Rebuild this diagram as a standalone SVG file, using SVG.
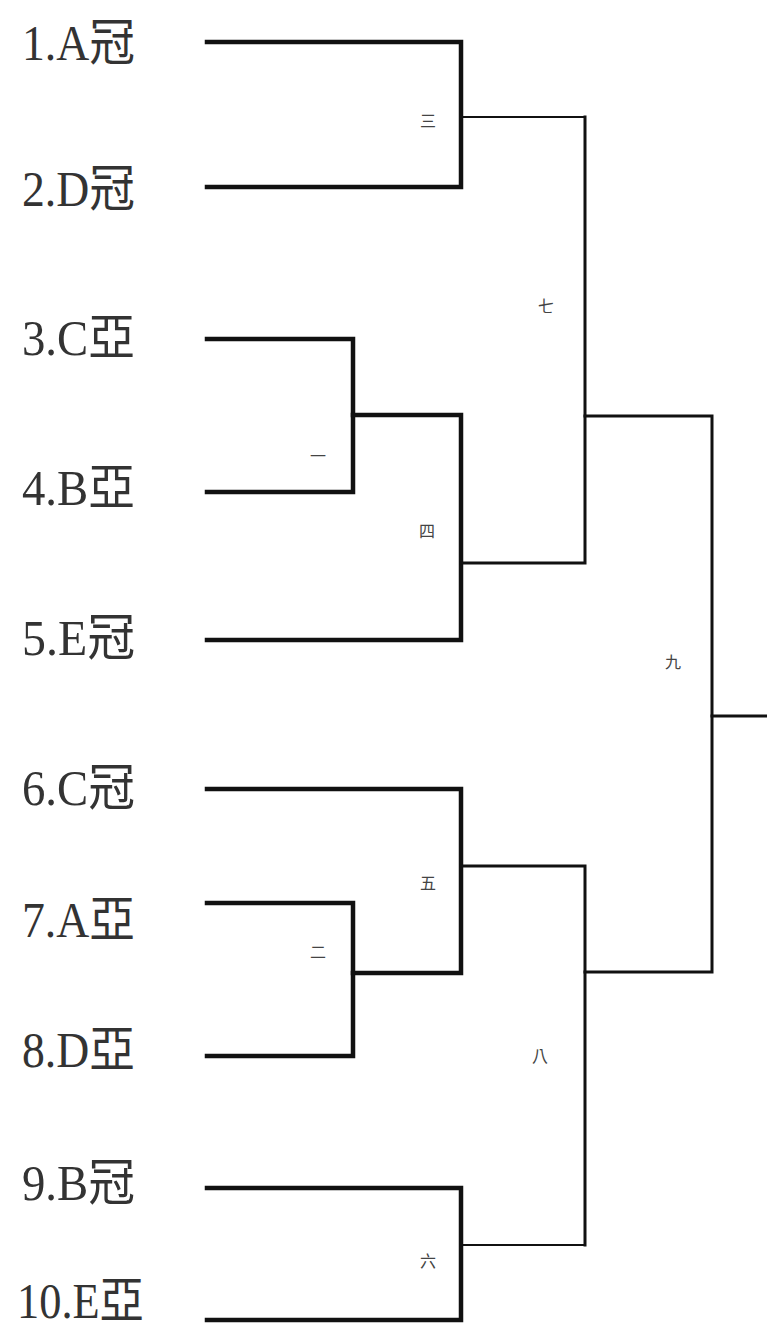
<svg xmlns="http://www.w3.org/2000/svg" width="767" height="1328" viewBox="0 0 767 1328">
<style>
.e{font-family:"Liberation Serif","Noto Sans CJK TC",serif;font-size:50px;fill:#333;}
.m{font-family:"Noto Sans CJK TC","Noto Sans CJK SC",sans-serif;font-size:16px;fill:#444;text-anchor:middle;}
.k{fill:none;stroke:#111;stroke-width:4.5;stroke-linejoin:miter;stroke-linecap:square;}
.t{fill:none;stroke:#111;stroke-width:3;stroke-linecap:square;}
.h{fill:none;stroke:#111;stroke-width:2;stroke-linecap:square;}
</style>
<rect width="767" height="1328" fill="#fff"/>
<g id="connectors">
<path class="k" d="M207 42H461V187H207"/>
<path class="h" d="M461 117H585"/>
<path class="k" d="M207 339H353V492H207"/>
<path class="k" d="M353 415H461V640H207"/>
<path class="t" d="M461 563H585V117"/>
<path class="t" d="M585 416H712V972H585"/>
<path class="t" d="M712 716H767"/>
<path class="k" d="M207 789H461V973H353"/>
<path class="k" d="M207 903H353V1056H207"/>
<path class="t" d="M461 866H585V1245"/>
<path class="k" d="M207 1188H461V1320H207"/>
<path class="h" d="M461 1245H585"/>
</g>
<g id="entry-1"><text class="e" x="22" y="60" textLength="113" lengthAdjust="spacingAndGlyphs">1.A冠</text></g>
<g id="entry-2"><text class="e" x="22" y="206" textLength="113" lengthAdjust="spacingAndGlyphs">2.D冠</text></g>
<g id="entry-3"><text class="e" x="22" y="355" textLength="113" lengthAdjust="spacingAndGlyphs">3.C亞</text></g>
<g id="entry-4"><text class="e" x="22" y="505" textLength="113" lengthAdjust="spacingAndGlyphs">4.B亞</text></g>
<g id="entry-5"><text class="e" x="22" y="655" textLength="113" lengthAdjust="spacingAndGlyphs">5.E冠</text></g>
<g id="entry-6"><text class="e" x="22" y="805" textLength="113" lengthAdjust="spacingAndGlyphs">6.C冠</text></g>
<g id="entry-7"><text class="e" x="22" y="937" textLength="113" lengthAdjust="spacingAndGlyphs">7.A亞</text></g>
<g id="entry-8"><text class="e" x="22" y="1067" textLength="113" lengthAdjust="spacingAndGlyphs">8.D亞</text></g>
<g id="entry-9"><text class="e" x="22" y="1200" textLength="113" lengthAdjust="spacingAndGlyphs">9.B冠</text></g>
<g id="entry-10"><text class="e" x="17" y="1318" font-size="46" textLength="127" lengthAdjust="spacingAndGlyphs">10.E亞</text></g>
<g id="match-1"><text class="m" x="318" y="462">一</text></g>
<g id="match-2"><text class="m" x="318" y="958">二</text></g>
<g id="match-3"><text class="m" x="428" y="127">三</text></g>
<g id="match-4"><text class="m" x="427" y="537">四</text></g>
<g id="match-5"><text class="m" x="428" y="889">五</text></g>
<g id="match-6"><text class="m" x="428" y="1267">六</text></g>
<g id="match-7"><text class="m" x="546" y="312">七</text></g>
<g id="match-8"><text class="m" x="540" y="1062">八</text></g>
<g id="match-9"><text class="m" x="673" y="668">九</text></g>
</svg>
